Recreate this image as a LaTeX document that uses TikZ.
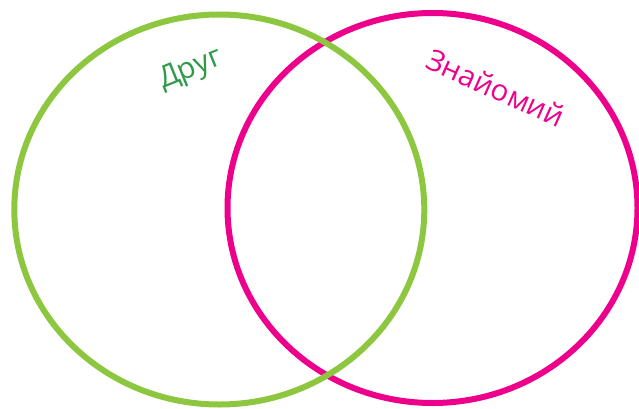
\documentclass[tikz,border=0pt]{standalone}
\usepackage{fontspec}
\setmainfont{Open Sans}
\usetikzlibrary{shapes.geometric}

\definecolor{leafgreen}{HTML}{8DC63F}
\definecolor{textgreen}{HTML}{2E9A48}
\definecolor{hotpink}{HTML}{EC008C}

\begin{document}
\begin{tikzpicture}[
    x=1pt, y=1pt,
    ring/.style={ellipse, draw, line width=6pt, inner sep=0pt, minimum width=410pt, minimum height=390pt},
    tag/.style={font=\fontsize{29.5}{34}\selectfont, inner sep=0pt}
]
\useasboundingbox (0,0) rectangle (639,408);

% Sets
\node[ring, draw=hotpink] (acquaint) at (432.5, 200) {};
\node[ring, draw=leafgreen] (friend) at (219.3, 198.5) {};

% Labels
\node[tag, text=textgreen, rotate=22] (friendlbl) at (191, 338) {Друг};
\node[tag, text=hotpink, rotate=-24] (acquaintlbl) at (496, 320) {Знайомий};

\end{tikzpicture}
\end{document}
